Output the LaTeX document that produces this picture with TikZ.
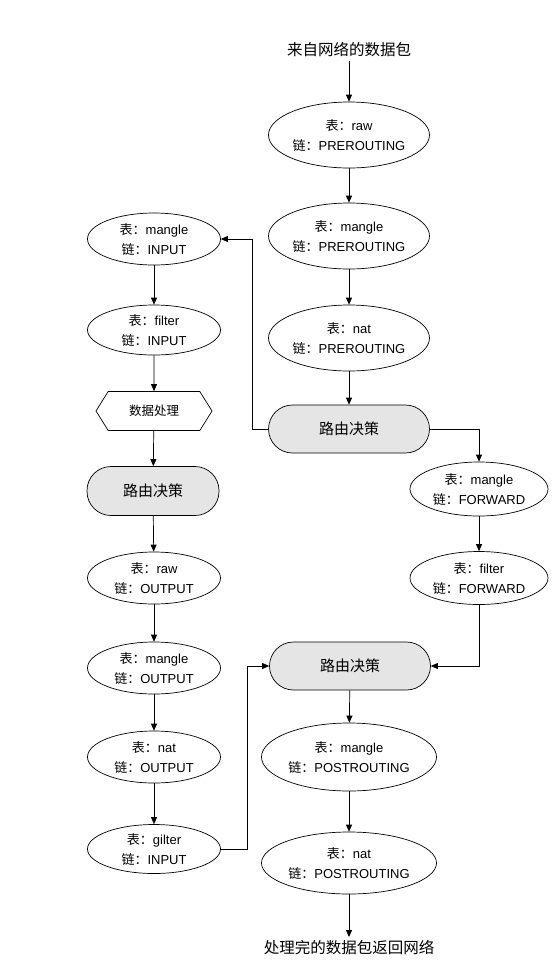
\documentclass[tikz,border=0pt]{standalone}
\usepackage{fontspec}
\setmainfont{Liberation Sans}
\newfontfamily\cjk{Noto Sans CJK SC}
\usetikzlibrary{shapes.geometric,shapes.symbols,arrows.meta}
\definecolor{rdgray}{RGB}{229,229,229}
\newcommand\tblchain[2]{{\cjk 表：}#1\\{\cjk 链：}#2}

\begin{document}
\begin{tikzpicture}[x=1pt,y=-1pt,line width=0.7pt,>={Triangle[length=7pt,width=6pt]},
	tbl/.style={draw,ellipse,inner sep=0pt,align=center,font=\fontsize{13}{20}\selectfont},
	route/.style={draw,rounded corners=24pt,fill=rdgray,minimum width=161pt,minimum height=48pt,inner sep=0pt,font=\cjk\fontsize{15}{18}\selectfont},
	lbl/.style={font=\cjk\fontsize{15.5}{18}\selectfont}]
\useasboundingbox (0,0) rectangle (552,970);

% PREROUTING
\node[lbl] (in) at (349,50) {来自网络的数据包};
\node[tbl,minimum width=161pt,minimum height=66pt] (rawpre) at (349,135) {\tblchain{raw}{PREROUTING}};
\node[tbl,minimum width=161pt,minimum height=66pt] (manglepre) at (349,236) {\tblchain{mangle}{PREROUTING}};
\node[tbl,minimum width=161pt,minimum height=66pt] (natpre) at (349,338) {\tblchain{nat}{PREROUTING}};
\node[route] (rd1) at (349,429) {路由决策};

% INPUT / OUTPUT
\node[tbl,minimum width=133pt,minimum height=52pt] (mangleinput) at (154,239) {\tblchain{mangle}{INPUT}};
\node[tbl,minimum width=133pt,minimum height=50pt] (filterinput) at (154,330) {\tblchain{filter}{INPUT}};
\node[draw,signal,signal to=west and east,signal pointer angle=116,minimum width=116pt,minimum height=39pt,inner sep=0pt,font=\cjk\fontsize{12.5}{15}\selectfont] (proc) at (154,411) {数据处理};
\node[route,minimum width=132pt,minimum height=49pt] (rd2) at (153,491) {路由决策};
\node[tbl,minimum width=133pt,minimum height=52pt] (rawout) at (154,578) {\tblchain{raw}{OUTPUT}};
\node[tbl,minimum width=133pt,minimum height=52pt] (mangleout) at (154,668) {\tblchain{mangle}{OUTPUT}};
\node[tbl,minimum width=133pt,minimum height=52pt] (natout) at (154,757) {\tblchain{nat}{OUTPUT}};
\node[tbl,minimum width=133pt,minimum height=49pt] (gilterin) at (154,849) {\tblchain{gilter}{INPUT}};

% FORWARD
\node[tbl,minimum width=138pt,minimum height=54pt] (manglefwd) at (479,489) {\tblchain{mangle}{FORWARD}};
\node[tbl,minimum width=138pt,minimum height=53pt] (filterfwd) at (479,578) {\tblchain{filter}{FORWARD}};

% POSTROUTING
\node[route] (rd3) at (350,666) {路由决策};
\node[tbl,minimum width=175pt,minimum height=68pt] (manglepost) at (349,757) {\tblchain{mangle}{POSTROUTING}};
\node[tbl,minimum width=175pt,minimum height=62pt] (natpost) at (349,863) {\tblchain{nat}{POSTROUTING}};
\node[lbl] (out) at (349,948) {处理完的数据包返回网络};

\draw[->] (in)--(rawpre);
\draw[->] (rawpre)--(manglepre);
\draw[->] (manglepre)--(natpre);
\draw[->] (natpre)--(rd1);
\draw[->] (rd1.west)--++(-16,0)|-(mangleinput.east);
\draw[->] (rd1.east)-|(manglefwd.north);
\draw[->] (mangleinput)--(filterinput);
\draw[->] (filterinput)--(proc);
\draw[->] (proc)--(rd2);
\draw[->] (rd2)--(rawout);
\draw[->] (rawout)--(mangleout);
\draw[->] (mangleout)--(natout);
\draw[->] (natout)--(gilterin);
\draw[->] (gilterin.east)--++(26,0)|-(rd3.west);
\draw[->] (manglefwd)--(filterfwd);
\draw[->] (filterfwd.south)|-(rd3.east);
\draw[->] (rd3)--(manglepost);
\draw[->] (manglepost)--(natpost);
\draw[->] (natpost)--(out);
\end{tikzpicture}
\end{document}
